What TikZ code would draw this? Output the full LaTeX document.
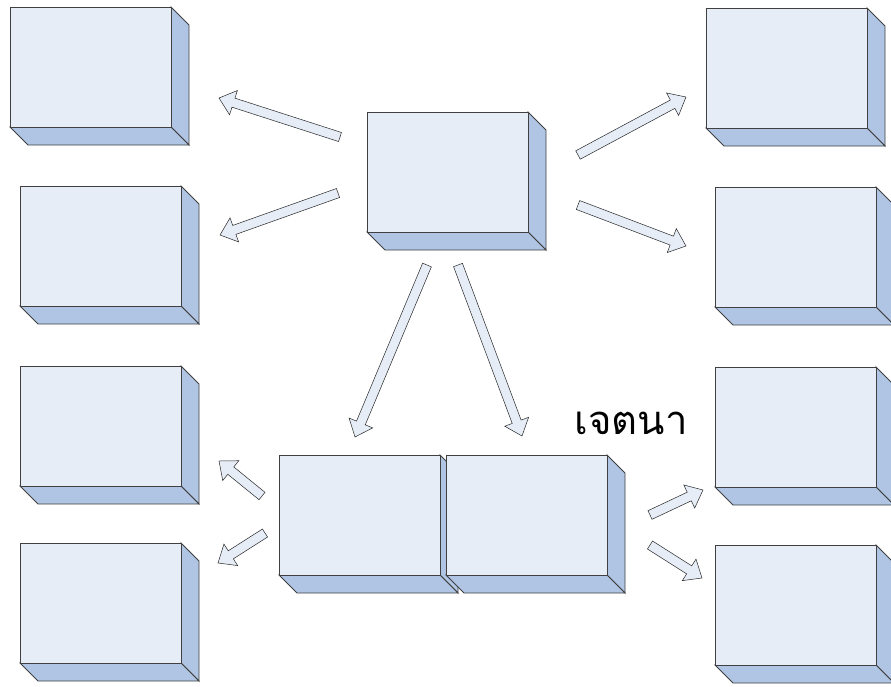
\documentclass[tikz,border=0pt]{standalone}
\usepackage{fontspec}
\newfontfamily\thaifont[Script=Thai]{Loma}
\usetikzlibrary{calc,shapes.arrows}

\definecolor{boxface}{HTML}{E6EDF7}
\definecolor{boxside}{HTML}{B0C5E4}

% front face of a box, then its right and bottom sides
\newcommand{\cube}[3]{%
  \filldraw[boxside,draw=black!75,line width=0.9pt] ({#2+161},{#3}) -- ++(18,18) -- ++(0,120) -- ++(-18,-18) -- cycle;
  \filldraw[boxside,draw=black!75,line width=0.9pt] ({#2},{#3+120}) -- ++(161,0) -- ++(18,18) -- ++(-161,0) -- cycle;
  \node (#1) at ({#2},{#3}) {};
}
\newcommand{\fatarrow}[2]{%
  \path let \p1=($(#2)-(#1)$), \n1={atan2(\y1,\x1)}, \n2={veclen(\x1,\y1)} in
    node[fatarrow, rotate=\n1, minimum height=\n2, anchor=tail] at (#1) {};
}

\begin{document}
\begin{tikzpicture}[x=1pt,y=-1pt,
    fatarrow/.style={single arrow, draw=black!85, fill=boxface, line width=0.5pt,
      inner sep=4.5pt, outer sep=0pt, minimum width=25pt,
      single arrow head extend=8pt, single arrow tip angle=80}]
    \clip (0,0) rectangle (891,686);
    \fill[white] (0,0) rectangle (891,686);

    \begin{scope}[every node/.style={anchor=north west, fill=boxface, draw=black!75, line width=0.9pt,
                  minimum width=161pt, minimum height=120pt, inner sep=0pt, outer sep=0pt}]
        \cube{lt}{10}{7}
        \cube{lu}{20}{186}
        \cube{ll}{20}{366}
        \cube{lb}{20}{543}
        \cube{mid}{367}{112}
        \cube{rt}{706}{8}
        \cube{ru}{715}{187}
        \cube{rl}{715}{367}
        \cube{rb}{715}{545}
        \cube{pa}{279}{455}
        \cube{pb}{446}{455}
    \end{scope}

    \node[font=\thaifont\fontsize{40}{44}\selectfont] (intent) at (631,423) {เจตนา};

    \begin{scope}
        \coordinate (a1) at (340,137); \coordinate (a1') at (219,98);
        \coordinate (a2) at (338,193); \coordinate (a2') at (220,235);
        \coordinate (a3) at (578,155); \coordinate (a3') at (686,97);
        \coordinate (a4) at (578,205); \coordinate (a4') at (686,246);
        \coordinate (a5) at (427,265); \coordinate (a5') at (355,437);
        \coordinate (a6) at (458,265); \coordinate (a6') at (522,436);
        \coordinate (a7) at (262,496); \coordinate (a7') at (219,461);
        \coordinate (a8) at (265,533); \coordinate (a8') at (218,563);
        \coordinate (a9) at (650,515); \coordinate (a9') at (703,490);
        \coordinate (a10) at (650,545); \coordinate (a10') at (702,578);
        \foreach \s in {a1,a2,a3,a4,a5,a6,a7,a8,a9,a10}
            {\fatarrow{\s}{\s'}}
    \end{scope}
\end{tikzpicture}
\end{document}
